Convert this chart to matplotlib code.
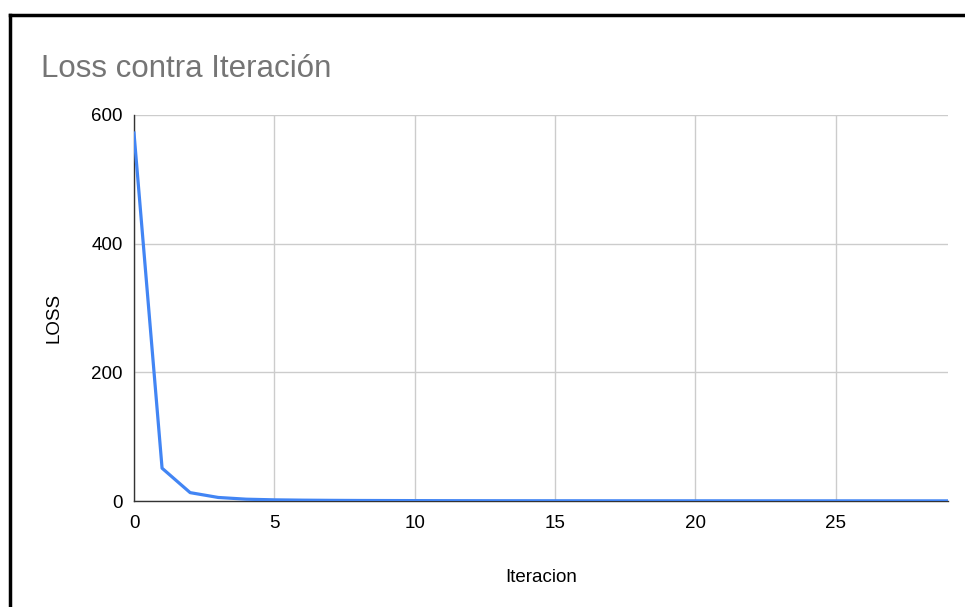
import matplotlib
matplotlib.use("Agg")
import matplotlib.pyplot as plt
from matplotlib.lines import Line2D

plt.rcParams['font.family'] = ['Liberation Sans', 'DejaVu Sans']

# Datos
iteracion = list(range(30))
loss = [572, 51, 13, 5.5, 2.8, 1.8, 1.3, 1.0, 0.8, 0.7,
        0.6, 0.5, 0.45, 0.4, 0.38, 0.35, 0.33, 0.31, 0.3, 0.29,
        0.28, 0.27, 0.26, 0.25, 0.24, 0.23, 0.22, 0.21, 0.2, 0.2]
y_ticks = [0, 200, 400, 600]
x_ticks = [0, 5, 10, 15, 20, 25]

W, H = 965, 607
fig = plt.figure(figsize=(W / 100, H / 100), dpi=100)
ax = fig.add_axes([134 / W, 1 - 501 / H, (948 - 134) / W, (501 - 115) / H])

ax.plot(iteracion, loss, color='#4285F4', lw=2.3, solid_joinstyle='round', zorder=3)

ax.set_xlim(0, 29)
ax.set_ylim(0, 600)
ax.set_xticks(x_ticks)
ax.set_yticks(y_ticks)
ax.grid(True, color='#cccccc', lw=1)
ax.set_axisbelow(True)
ax.tick_params(length=0, labelsize=13.5, colors='black')
ax.tick_params(axis='x', pad=10)
ax.tick_params(axis='y', pad=8)

for s in ['top', 'right']:
    ax.spines[s].set_visible(False)
for s in ['left', 'bottom']:
    ax.spines[s].set_color('#333333')
    ax.spines[s].set_linewidth(1)

ax.set_xlabel('Iteracion', fontsize=13.5)
ax.set_ylabel('LOSS', fontsize=13.5)
ax.xaxis.set_label_coords(0.5, -0.175)
ax.yaxis.set_label_coords(-0.088, 0.474)

fig.text(41 / W, 1 - 77 / H, 'Loss contra Iteración', fontsize=22.5,
         color='#757575', ha='left', va='baseline')

# marco negro arriba y a la izquierda
fig.add_artist(Line2D([10 / W, 1], [1 - 15 / H, 1 - 15 / H], color='black', lw=2.5,
                      transform=fig.transFigure))
fig.add_artist(Line2D([10 / W, 10 / W], [0, 1 - 15 / H], color='black', lw=2.5,
                      transform=fig.transFigure))

fig.savefig('out.png', dpi=100)
